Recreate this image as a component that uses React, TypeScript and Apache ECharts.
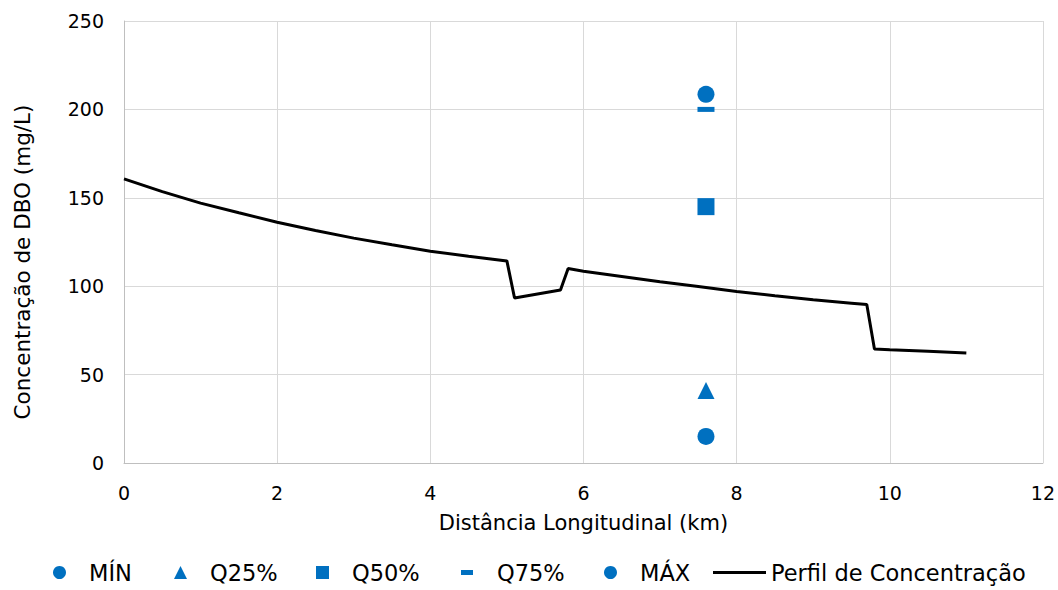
import React, { useEffect, useRef } from "react";
import * as echarts from "echarts";

const profileX = [0, 0.5, 1, 1.5, 2, 2.5, 3, 3.5, 4, 4.5, 5, 5.1, 5.7, 5.8, 6, 6.5, 7, 7.5, 8, 8.5, 9, 9.5, 9.7, 9.8, 10, 10.5, 11];
const profileY = [160.7, 153.5, 147, 141.5, 136.2, 131.5, 127.2, 123.4, 119.8, 117, 114.3, 93.3, 97.8, 110, 108.5, 105.5, 102.5, 99.8, 97, 94.6, 92.3, 90.4, 89.6, 64.5, 64.1, 63.2, 62.2];

const stationX = 7.6;
const minVal = [15];
const q25Val = [41];
const q50Val = [145];
const q75Val = [200];
const maxVal = [208.5];

const xTicks = { min: 0, max: 12, interval: 2 };
const yTicks = { min: 0, max: 250, interval: 50 };

const xTitle = "Distância Longitudinal (km)";
const yTitle = "Concentração de DBO (mg/L)";

const BLUE = "#0070C0";
const FONT = "DejaVu Sans, Liberation Sans, Arial, sans-serif";

export default function App() {
  const ref = useRef<HTMLDivElement>(null);
  useEffect(() => {
    if (!ref.current) return;
    const chart = echarts.init(ref.current, undefined, { renderer: "svg" });
    const pt = (v: number[]) => v.map((y) => [stationX, y]);
    const legendText = { fontSize: 22.5, color: "#000", fontFamily: FONT, padding: [0, 0, 0, 18] };
    const legendBase = {
      top: 561,
      itemGap: 0,
      selectedMode: false,
      padding: 0,
      itemWidth: 13,
      itemHeight: 13,
      textStyle: legendText,
    };
    chart.setOption({
      animation: false,
      textStyle: { fontFamily: FONT },
      grid: { left: 124, right: 15, top: 21, bottom: 127 },
      graphic: [
        {
          type: "text",
          x: 22,
          y: 262,
          rotation: Math.PI / 2,
          style: { text: yTitle, fontSize: 21.5, fill: "#000", fontFamily: FONT, align: "center", verticalAlign: "middle" },
        },
      ],
      xAxis: {
        type: "value",
        min: xTicks.min,
        max: xTicks.max,
        interval: xTicks.interval,
        name: xTitle,
        nameLocation: "middle",
        nameGap: 49,
        nameTextStyle: { fontSize: 21, color: "#000", fontFamily: FONT },
        axisLine: { show: true, lineStyle: { color: "#bfbfbf", width: 1 } },
        axisTick: { show: false },
        axisLabel: { fontSize: 19, color: "#000", margin: 20, fontFamily: FONT },
        splitLine: { show: true, lineStyle: { color: "#d9d9d9", width: 1 } },
      },
      yAxis: {
        type: "value",
        min: yTicks.min,
        max: yTicks.max,
        interval: yTicks.interval,
        axisLine: { show: true, lineStyle: { color: "#bfbfbf", width: 1 } },
        axisTick: { show: false },
        axisLabel: { fontSize: 19, color: "#000", margin: 20, fontFamily: FONT },
        splitLine: { show: true, lineStyle: { color: "#d9d9d9", width: 1 } },
      },
      legend: [
        { ...legendBase, left: 53, data: [{ name: "MÍN", icon: "circle" }] },
        { ...legendBase, left: 174, data: [{ name: "Q25%", icon: "triangle" }] },
        { ...legendBase, left: 316, data: [{ name: "Q50%", icon: "rect" }] },
        { ...legendBase, left: 461, data: [{ name: "Q75%", icon: "rect" }], itemWidth: 12, itemHeight: 5, textStyle: { ...legendText, padding: [0, 0, 0, 19] } },
        { ...legendBase, left: 604, data: [{ name: "MÁX", icon: "circle" }] },
        { ...legendBase, left: 713, data: [{ name: "Perfil de Concentração", icon: "rect" }], itemWidth: 53, itemHeight: 3, textStyle: { ...legendText, padding: [0, 0, 0, 0] } },
      ],
      series: [
        {
          name: "Perfil de Concentração",
          type: "line",
          data: profileX.map((x, i) => [x, profileY[i]]),
          showSymbol: false,
          symbol: "none",
          lineStyle: { color: "#000", width: 3 },
          itemStyle: { color: "#000" },
          z: 2,
        },
        { name: "MÍN", type: "scatter", data: pt(minVal), symbol: "circle", symbolSize: 17, itemStyle: { color: BLUE, opacity: 1 }, z: 3 },
        { name: "Q25%", type: "scatter", data: pt(q25Val), symbol: "triangle", symbolSize: 17, itemStyle: { color: BLUE, opacity: 1 }, z: 3 },
        { name: "Q50%", type: "scatter", data: pt(q50Val), symbol: "rect", symbolSize: 17, itemStyle: { color: BLUE, opacity: 1 }, z: 3 },
        { name: "Q75%", type: "scatter", data: pt(q75Val), symbol: "rect", symbolSize: [17, 5], itemStyle: { color: BLUE, opacity: 1 }, z: 3 },
        { name: "MÁX", type: "scatter", data: pt(maxVal), symbol: "circle", symbolSize: 17, itemStyle: { color: BLUE, opacity: 1 }, z: 3 },
      ],
    });
    return () => chart.dispose();
  }, []);
  return <div ref={ref} style={{ width: 1058, height: 590, position: "absolute", left: 0, top: 0 }} />;
}
